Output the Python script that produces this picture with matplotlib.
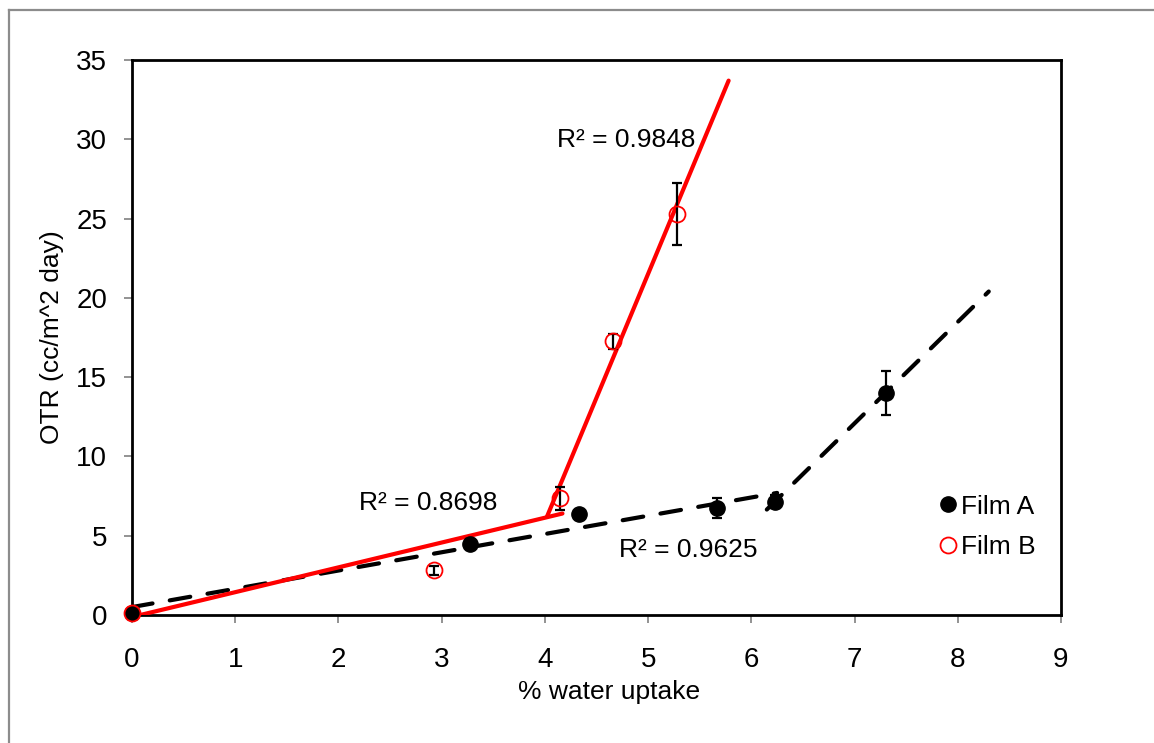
import numpy as np
import matplotlib
matplotlib.use('Agg')
import matplotlib.pyplot as plt
from matplotlib.lines import Line2D

plt.rcParams['font.family'] = ['Liberation Sans', 'DejaVu Sans']

# Film A (black, filled)
film_a_x = [0.0, 3.27, 4.33, 5.67, 6.23, 7.30]
film_a_y = [0.1, 4.5, 6.35, 6.75, 7.15, 14.0]
film_a_err = [0.0, 0.3, 0.0, 0.65, 0.4, 1.4]

# Film B (red, open)
film_b_x = [0.0, 2.93, 4.15, 4.66, 5.28]
film_b_y = [0.1, 2.82, 7.35, 17.25, 25.3]
film_b_err = [0.0, 0.3, 0.7, 0.5, 1.95]

# trendline end points
fit_a1_x, fit_a1_y = [0.0, 6.25], [0.5, 7.7]
fit_a2_x, fit_a2_y = [6.15, 8.30], [6.65, 20.4]
fit_b1_x, fit_b1_y = [0.08, 4.17], [0.0, 6.4]
fit_b2_x, fit_b2_y = [4.02, 5.78], [6.2, 33.7]

r2_labels = ['R\u00b2 = 0.9848', 'R\u00b2 = 0.8698', 'R\u00b2 = 0.9625']

fig = plt.figure(figsize=(11.54, 7.43), dpi=100)
ax = fig.add_axes([132/1154, 1 - 615/743, 929/1154, 555/743])

ax.plot(fit_a1_x, fit_a1_y, color='k', lw=3, dashes=(5, 4.2),
        dash_capstyle='round', zorder=3)
ax.plot(fit_a2_x, fit_a2_y, color='k', lw=3, dashes=(5, 4.2),
        dash_capstyle='round', zorder=3)
ax.plot(fit_b1_x, fit_b1_y, color='red', lw=3, solid_capstyle='round', zorder=3)
ax.plot(fit_b2_x, fit_b2_y, color='red', lw=3, solid_capstyle='round', zorder=3)

ax.errorbar(film_a_x, film_a_y, yerr=film_a_err, fmt='none', ecolor='k',
            elinewidth=1.6, capsize=3.8, capthick=1.6, zorder=4)
ax.errorbar(film_b_x, film_b_y, yerr=film_b_err, fmt='none', ecolor='k',
            elinewidth=1.6, capsize=3.8, capthick=1.6, zorder=4)
ax.plot(film_a_x, film_a_y, 'o', color='k', ms=11, ls='none',
        label='Film A', zorder=5, clip_on=False)
ax.plot(film_b_x, film_b_y, 'o', mfc='none', mec='red', mew=1.3, ms=11.5,
        ls='none', label='Film B', zorder=6, clip_on=False)

ax.text(4.79, 29.95, r2_labels[0], fontsize=19, ha='center', va='center')
ax.text(2.87, 7.06, r2_labels[1], fontsize=19, ha='center', va='center')
ax.text(5.39, 4.1, r2_labels[2], fontsize=19, ha='center', va='center')

ax.set_xlim(0, 9)
ax.set_ylim(0, 35)
ax.set_xticks(range(0, 10))
ax.set_yticks(range(0, 40, 5))
ax.tick_params(axis='both', direction='out', length=6, width=1.2,
               color='#808080', labelsize=20)
ax.tick_params(axis='x', pad=17)
ax.tick_params(axis='y', pad=12)
for sp in ax.spines.values():
    sp.set_linewidth(2)
    sp.set_color('k')

ax.set_xlabel('% water uptake', fontsize=19)
ax.set_ylabel('OTR (cc/m^2 day)', fontsize=19)
ax.xaxis.set_label_coords(0.513, -0.118)
ax.yaxis.set_label_coords(-0.073, 0.5)

ax.legend(loc='center left', bbox_to_anchor=(0.867, 0.159), frameon=False,
          fontsize=19, handlelength=0.8, handletextpad=0.1, borderpad=0,
          borderaxespad=0, labelspacing=0.62)

# outer chart-area border (gray, only left and top visible)
fig.add_artist(Line2D([9/1154, 9/1154], [0, 1 - 10/743], color='#8c8c8c',
                      lw=1.6, transform=fig.transFigure))
fig.add_artist(Line2D([9/1154, 1], [1 - 10/743, 1 - 10/743], color='#8c8c8c',
                      lw=1.6, transform=fig.transFigure))

fig.savefig('out.png', dpi=100)
